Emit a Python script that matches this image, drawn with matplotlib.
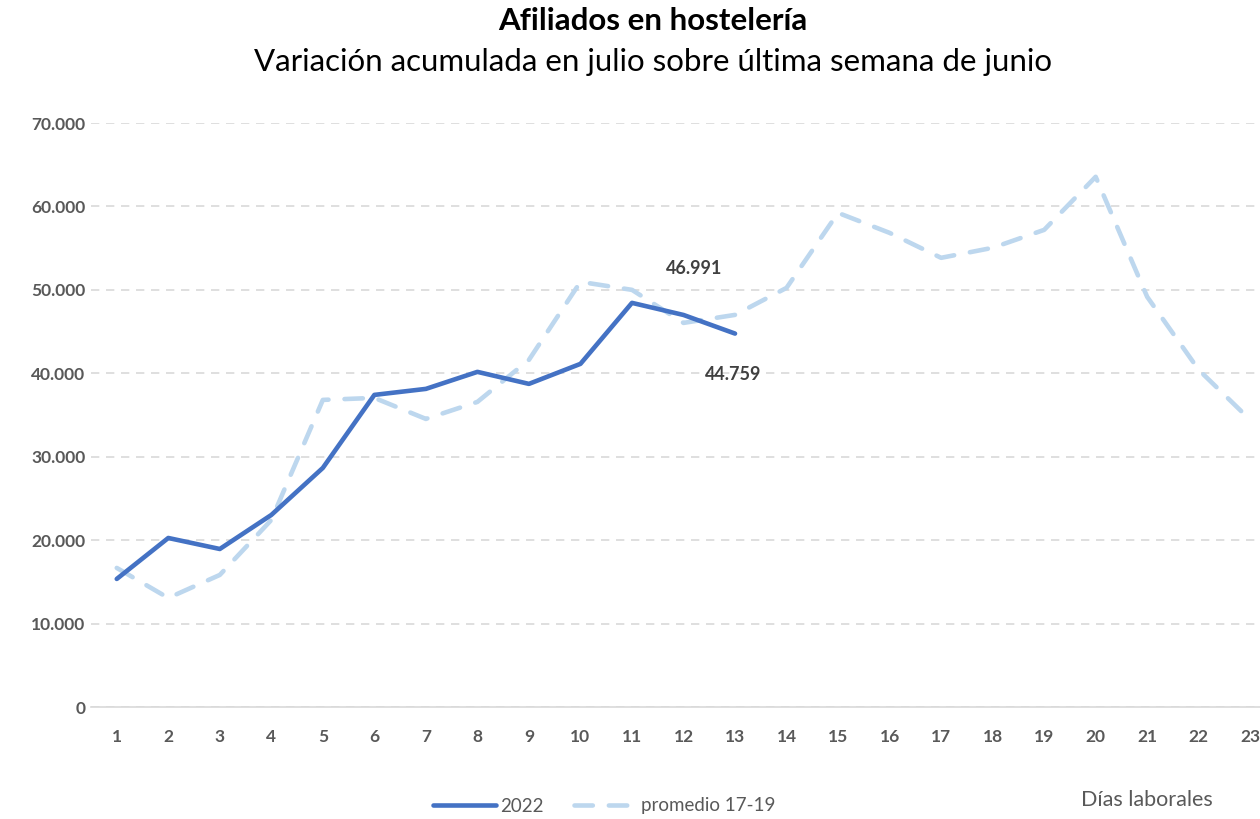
import matplotlib
matplotlib.use("Agg")
import matplotlib.pyplot as plt
from matplotlib.ticker import FuncFormatter

plt.rcParams['font.family'] = ['Lato', 'DejaVu Sans']

# --- data ---
dias = list(range(1, 24))
afiliados_2022 = [15350, 20260, 18940, 23020, 28660, 37410, 38130, 40170, 38730,
                  41130, 48440, 46991, 44759]
promedio_17_19 = [16670, 13070, 15830, 22420, 36810, 37050, 34530, 36570, 41610,
                  50960, 50000, 46040, 47000, 50240, 59230, 56830, 53840, 55040,
                  57190, 63550, 49160, 40410, 34410]
y_ticks = [0, 10000, 20000, 30000, 40000, 50000, 60000, 70000]

# --- figure ---
fig = plt.figure(figsize=(12.6, 8.19), dpi=100)
ax = fig.add_axes([91 / 1260, 1 - 707 / 819, (1276 - 91) / 1260, (707 - 123) / 819])

ax.plot(dias[:len(afiliados_2022)], afiliados_2022, color='#4472C4', lw=3.3,
        solid_capstyle='round', solid_joinstyle='round', label='2022', zorder=3)
ax.plot(dias, promedio_17_19, color='#BDD7EE', lw=3.3, dashes=(4, 3.5),
        dash_capstyle='round', dash_joinstyle='round', label='promedio 17-19', zorder=2)

# labels on the last two points of 2022
ax.annotate(f"{afiliados_2022[11]:,}".replace(',', '.'), (dias[11], afiliados_2022[11]),
            xytext=(8, 27), textcoords='offset points', ha='center', va='bottom',
            fontsize=13, fontweight='bold', color='#404040')
ax.annotate(f"{afiliados_2022[12]:,}".replace(',', '.'), (dias[12], afiliados_2022[12]),
            xytext=(-1, -23), textcoords='offset points', ha='center', va='top',
            fontsize=13, fontweight='bold', color='#404040')

ax.set_xlim(0.5, 23.5)
ax.set_ylim(0, 70000)
ax.set_xticks(dias)
ax.set_yticks(y_ticks)
ax.yaxis.set_major_formatter(FuncFormatter(lambda v, p: f"{int(v):,}".replace(',', '.')))
ax.tick_params(axis='both', length=0, labelsize=12.5, labelcolor='#595959')
ax.tick_params(axis='x', pad=16)
ax.tick_params(axis='y', pad=4)
for lab in ax.get_xticklabels() + ax.get_yticklabels():
    lab.set_fontweight('bold')

ax.grid(axis='y', color='#d9d9d9', ls=(0, (5, 4)), lw=1.2)
ax.set_axisbelow(True)
for s in ['top', 'right', 'left']:
    ax.spines[s].set_visible(False)
ax.spines['bottom'].set_color('#d9d9d9')
ax.spines['bottom'].set_linewidth(1.2)

fig.text(653 / 1260, 1 - 21 / 819, "Afiliados en hostelería", ha='center', va='center',
         fontsize=22.5, fontweight='bold', color='black')
fig.text(653 / 1260, 1 - 62 / 819, "Variación acumulada en julio sobre última semana de junio",
         ha='center', va='center', fontsize=22.5, color='black')

fig.legend(loc='center', bbox_to_anchor=(604 / 1260, 1 - 806 / 819), ncol=2, frameon=False,
           fontsize=13.5, handlelength=3.4, columnspacing=1.6, handletextpad=0.2,
           labelcolor='#595959')
fig.text(1147 / 1260, 1 - 800 / 819, "Días laborales", ha='center', va='center',
         fontsize=15.5, color='#595959')

fig.savefig("out.png", dpi=100)
